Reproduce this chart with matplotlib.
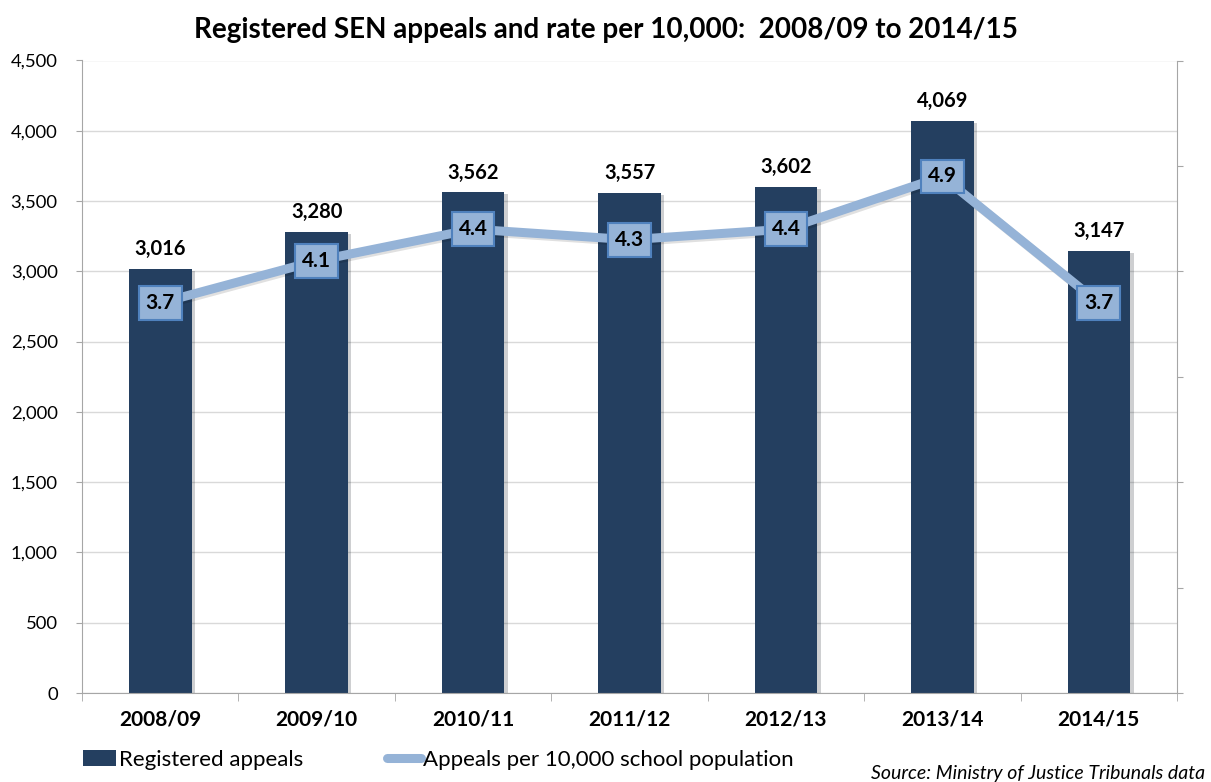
import matplotlib
matplotlib.use("Agg")
import matplotlib.pyplot as plt
import matplotlib.patheffects as pe
from matplotlib.lines import Line2D
from matplotlib.patches import Patch
from matplotlib.ticker import FuncFormatter, MultipleLocator

plt.rcParams['font.family'] = ['Lato', 'DejaVu Sans']

categories = ["2008/09", "2009/10", "2010/11", "2011/12", "2012/13", "2013/14", "2014/15"]
appeals = [3016, 3280, 3562, 3557, 3602, 4069, 3147]
rate = [3.7, 4.1, 4.4, 4.3, 4.4, 4.9, 3.7]

bar_color = "#243F60"
line_color = "#95B3D7"
box_edge = "#4F81BD"
axis_grey = "#A6A6A6"

fig = plt.figure(figsize=(12.11, 7.82), dpi=100)
ax = fig.add_axes([82/1211, 1 - 693/782, (1177-82)/1211, (693-60.5)/782])
x = list(range(len(categories)))

bars = ax.bar(x, appeals, width=0.40, color=bar_color, zorder=2,
              path_effects=[pe.SimplePatchShadow(offset=(2.5, -1.5), alpha=0.2), pe.Normal()])
for xi, v in zip(x, appeals):
    ax.annotate(f"{v:,}", (xi, v), xytext=(0, 7), textcoords="offset points",
                ha="center", va="bottom", fontsize=14.5, fontweight="bold", color="black")

ax.set_xlim(-0.5, len(categories) - 0.5)
ax.set_ylim(0, 4500)
ax.yaxis.set_major_locator(MultipleLocator(500))
ax.yaxis.set_major_formatter(FuncFormatter(lambda v, p: f"{int(v):,}"))
ax.grid(axis="y", color="#D9D9D9", linewidth=1, zorder=0)
ax.set_axisbelow(True)
ax.set_xticks(x)
ax.set_xticklabels(categories, fontsize=15, fontweight="bold")
ax.set_xticks([i + 0.5 for i in range(-1, len(categories))], minor=True)
ax.tick_params(axis="x", which="major", length=0, pad=12)
ax.tick_params(axis="x", which="minor", length=6, color=axis_grey, direction="out")
ax.tick_params(axis="y", length=4.5, color=axis_grey, labelsize=13.3, pad=13)
for s in ["top", "right"]:
    ax.spines[s].set_visible(False)
ax.spines["left"].set_color(axis_grey)
ax.spines["bottom"].set_color(axis_grey)

ax2 = ax.twinx()
ax2.set_ylim(0, 6)
ax2.yaxis.set_major_locator(MultipleLocator(1))
ax2.tick_params(axis="y", length=4.5, color=axis_grey, labelright=False)
for s in ["top", "left", "bottom"]:
    ax2.spines[s].set_visible(False)
ax2.spines["right"].set_color(axis_grey)
ax2.plot(x, rate, color=line_color, linewidth=6.5, zorder=3, solid_capstyle="round",
         path_effects=[pe.SimpleLineShadow(offset=(1.5, -1.5), alpha=0.12), pe.Normal()])
for xi, r in zip(x, rate):
    ax2.text(xi, r, f"{r:.1f}", ha="center", va="center", fontsize=15, fontweight="bold",
             color="black", zorder=5,
             bbox=dict(boxstyle="square,pad=0.33", facecolor=line_color, edgecolor=box_edge,
                       linewidth=1.5))

fig.text(0.5, 1 - 30/782, "Registered SEN appeals and rate per 10,000:  2008/09 to 2014/15",
         ha="center", va="center", fontsize=20, fontweight="bold")

handles = [Patch(facecolor=bar_color, edgecolor="none", label="Registered appeals"),
           Line2D([0], [0], color=line_color, linewidth=6.5, solid_capstyle="round",
                  label="Appeals per 10,000 school population")]
fig.legend(handles=handles, loc="center left", bbox_to_anchor=(83/1211, 1 - 760/782),
           ncol=2, frameon=False, fontsize=16, handlelength=1.5, handletextpad=0.1,
           columnspacing=3.8, borderpad=0, borderaxespad=0)

fig.text(1205/1211, 1 - 773/782, "Source: Ministry of Justice Tribunals data",
         ha="right", va="center", fontsize=14, style="italic")

fig.savefig("out.png", dpi=100)
